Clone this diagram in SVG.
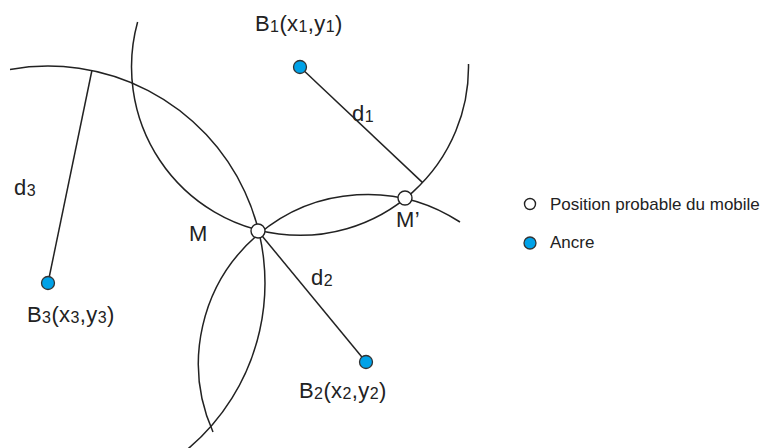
<svg xmlns="http://www.w3.org/2000/svg" width="767" height="448" viewBox="0 0 767 448">
<style>
.c{fill:none;stroke:#222;stroke-width:1.5}
.anc{fill:#00a2e8;stroke:#333;stroke-width:1.3}
.pos{fill:#fff;stroke:#222;stroke-width:1.4}
.t{font-family:"Liberation Sans",Arial,sans-serif;font-size:22px;fill:#222;letter-spacing:0.4px}
.s{font-size:16px}
.lg{font-family:"Liberation Sans",Arial,sans-serif;font-size:17px;fill:#222}
</style>
<rect width="767" height="448" fill="#fff"/>
<g id="connectors">
<path class="c" d="M137.6,22 A168.5,168.5 0 1 0 468.5,64"/>
<path class="c" d="M213,432 A169,169 0 0 1 460,222"/>
<path class="c" d="M10,69.4 A217,217 0 0 1 186.6,450"/>
<line class="c" x1="300" y1="67" x2="422.6" y2="182.6"/>
<line class="c" x1="366" y1="362" x2="258" y2="231"/>
<line class="c" x1="48" y1="283" x2="91.9" y2="70.5"/>
<text class="t" x="352" y="121">d<tspan class="s" dy="1">1</tspan></text>
<text class="t" x="311" y="285">d<tspan class="s" dy="1">2</tspan></text>
<text class="t" x="14" y="195">d<tspan class="s" dy="1">3</tspan></text>
</g>
<g id="B1">
<circle class="anc" cx="300" cy="67" r="6.5"/>
<text class="t" x="255" y="31">B<tspan class="s" dy="1">1</tspan><tspan dy="-1">(x</tspan><tspan class="s" dy="1">1</tspan><tspan dy="-1">,y</tspan><tspan class="s" dy="1">1</tspan><tspan dy="-1">)</tspan></text>
</g>
<g id="B2">
<circle class="anc" cx="366" cy="362" r="6.5"/>
<text class="t" x="299" y="398">B<tspan class="s" dy="1">2</tspan><tspan dy="-1">(x</tspan><tspan class="s" dy="1">2</tspan><tspan dy="-1">,y</tspan><tspan class="s" dy="1">2</tspan><tspan dy="-1">)</tspan></text>
</g>
<g id="B3">
<circle class="anc" cx="48" cy="283" r="6.5"/>
<text class="t" x="27" y="322">B<tspan class="s" dy="1">3</tspan><tspan dy="-1">(x</tspan><tspan class="s" dy="1">3</tspan><tspan dy="-1">,y</tspan><tspan class="s" dy="1">3</tspan><tspan dy="-1">)</tspan></text>
</g>
<g id="M">
<circle class="pos" cx="258" cy="231" r="7"/>
<text class="t" x="189" y="241">M</text>
</g>
<g id="Mprime">
<circle class="pos" cx="405" cy="198" r="7"/>
<text class="t" x="396" y="227">M’</text>
</g>
<g id="legend">
<circle class="pos" cx="530" cy="204" r="5.5"/>
<text class="lg" x="550" y="210">Position probable du mobile</text>
<circle class="anc" cx="530" cy="243" r="6"/>
<text class="lg" x="550" y="248">Ancre</text>
</g>
</svg>
